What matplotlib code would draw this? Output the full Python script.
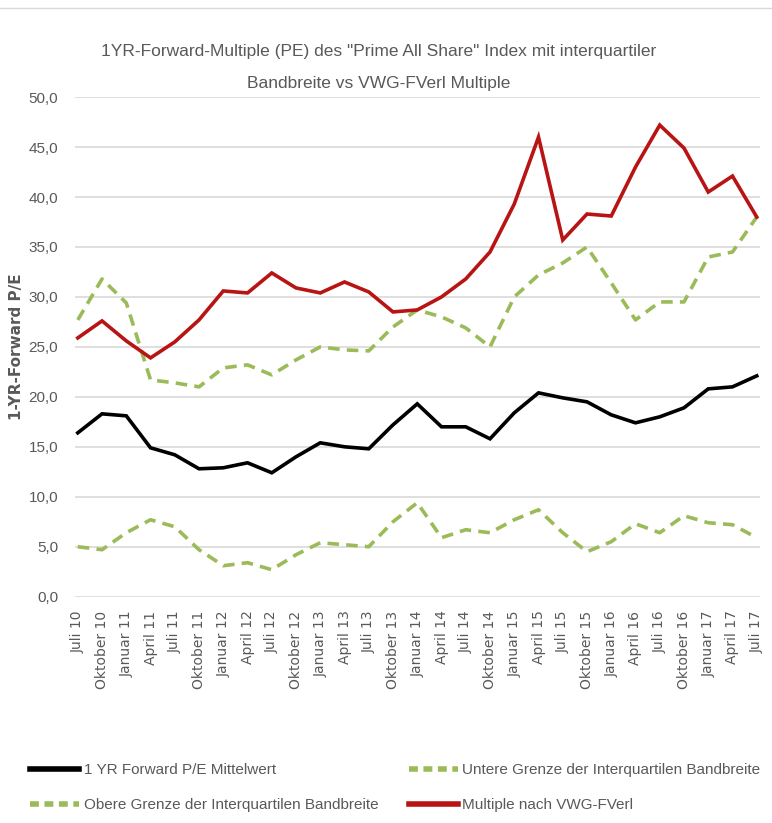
import matplotlib
matplotlib.use("Agg")
import matplotlib.pyplot as plt
from matplotlib.ticker import FuncFormatter
from matplotlib.lines import Line2D

labels = ["Juli 10", "Oktober 10", "Januar 11", "April 11", "Juli 11", "Oktober 11",
          "Januar 12", "April 12", "Juli 12", "Oktober 12", "Januar 13", "April 13",
          "Juli 13", "Oktober 13", "Januar 14", "April 14", "Juli 14", "Oktober 14",
          "Januar 15", "April 15", "Juli 15", "Oktober 15", "Januar 16", "April 16",
          "Juli 16", "Oktober 16", "Januar 17", "April 17", "Juli 17"]

mittelwert = [16.4, 18.3, 18.1, 14.9, 14.2, 12.8, 12.9, 13.4, 12.4, 14.0, 15.4, 15.0,
              14.8, 17.2, 19.3, 17.0, 17.0, 15.8, 18.4, 20.4, 19.9, 19.5, 18.2, 17.4,
              18.0, 18.9, 20.8, 21.0, 22.1]
untere = [5.0, 4.7, 6.4, 7.7, 7.0, 4.7, 3.1, 3.4, 2.7, 4.2, 5.4, 5.2,
          5.0, 7.5, 9.4, 5.9, 6.7, 6.4, 7.7, 8.7, 6.4, 4.5, 5.5, 7.3,
          6.4, 8.1, 7.4, 7.2, 5.9]
obere = [27.7, 31.8, 29.4, 21.7, 21.4, 21.0, 22.9, 23.2, 22.2, 23.7, 25.0, 24.7,
         24.6, 27.0, 28.7, 28.0, 26.9, 25.0, 30.0, 32.2, 33.4, 35.0, 31.4, 27.7,
         29.5, 29.5, 34.0, 34.5, 38.0]
vwg = [25.9, 27.6, 25.6, 23.9, 25.5, 27.7, 30.6, 30.4, 32.4, 30.9, 30.4, 31.5,
       30.5, 28.5, 28.7, 30.0, 31.8, 34.5, 39.3, 46.0, 35.7, 38.3, 38.1, 43.0,
       47.2, 44.9, 40.5, 42.1, 38.0]

title = '1YR-Forward-Multiple (PE) des "Prime All Share" Index mit interquartiler\nBandbreite vs VWG-FVerl Multiple'
ylabel = "1-YR-Forward P/E"
legend_labels = ["1 YR Forward P/E Mittelwert", "Untere Grenze der Interquartilen Bandbreite",
                 "Obere Grenze der Interquartilen Bandbreite", "Multiple nach VWG-FVerl"]

narrow = ["Liberation Sans", "DejaVu Sans"]
red = "#B81414"
green = "#9BBB59"
gray = "#595959"

fig = plt.figure(figsize=(7.72, 8.23), dpi=100)
ax = fig.add_axes([0.097, 0.275, 0.887, 0.607])

x = list(range(len(labels)))
ax.plot(x, mittelwert, color="black", lw=2.6, solid_joinstyle="miter", zorder=3)
ax.plot(x, untere, color=green, lw=2.6, dashes=(3.2, 2.0), zorder=3)
ax.plot(x, obere, color=green, lw=2.6, dashes=(3.2, 2.0), zorder=3)
ax.plot(x, vwg, color=red, lw=2.6, solid_joinstyle="miter", zorder=4)

ax.set_ylim(0, 50)
ax.set_yticks(range(0, 51, 5))
ax.yaxis.set_major_formatter(FuncFormatter(lambda v, p: f"{v:.1f}".replace(".", ",")))
ax.set_xlim(-0.12, 28.12)
ax.set_xticks(x)
ax.set_xticklabels(labels, rotation=90, fontsize=10, color=gray, family="DejaVu Sans")
ax.tick_params(axis="y", labelsize=11, colors=gray, length=0, pad=12)
ax.tick_params(axis="x", length=0, pad=10)
for lbl in ax.get_yticklabels():
    lbl.set_family(narrow)
ax.grid(axis="y", color="#D9D9D9", lw=1.2)
ax.set_axisbelow(True)
for s in ax.spines.values():
    s.set_visible(False)

fig.text(17 / 772, 0.275 + 0.607 / 2, ylabel, rotation=90, ha="center", va="center",
         fontsize=11, color=gray, fontweight="bold", family="DejaVu Sans")

fig.text(0.49, 0.918, title, ha="center", va="center", fontsize=12.5, color=gray,
         family=narrow, linespacing=2.4)

fig.add_artist(Line2D([0.0, 1.0], [0.99, 0.99], color="#D9D9D9", lw=1.0, transform=fig.transFigure))

h_m = Line2D([], [], color="black", lw=4)
h_u = Line2D([], [], color=green, lw=4, dashes=(1.6, 1.0))
h_o = Line2D([], [], color=green, lw=4, dashes=(1.6, 1.0))
h_v = Line2D([], [], color=red, lw=4)
leg = fig.legend([h_m, h_o, h_u, h_v],
                 [legend_labels[0], legend_labels[2], legend_labels[1], legend_labels[3]],
                 ncol=2, loc="center", bbox_to_anchor=(0.512, 0.043), frameon=False,
                 handlelength=3.2, handletextpad=0.3, columnspacing=2.0,
                 labelspacing=1.35, prop={"family": narrow, "size": 11})
for t in leg.get_texts():
    t.set_color(gray)

fig.savefig("out.png", dpi=100, facecolor="white")
